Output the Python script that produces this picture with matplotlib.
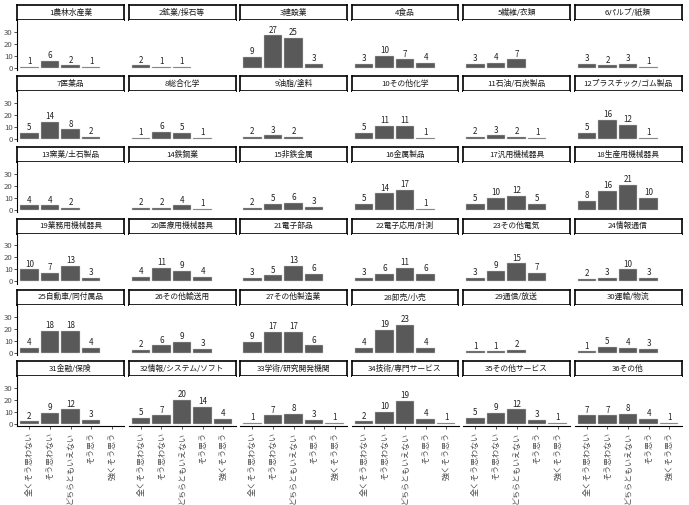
import matplotlib.pyplot as plt

plt.rcParams['font.family'] = ['Noto Sans CJK JP', 'DejaVu Sans']

# 回答カテゴリ
categories = ['全くそう思わない', 'そう思わない', 'どちらともいえない', 'そう思う', '強くそう思う']

# 業種
industries = [
    '1農林水産業', '2鉱業/採石等', '3建設業', '4食品', '5繊維/衣類', '6パルプ/紙類',
    '7医薬品', '8総合化学', '9油脂/塗料', '10その他化学', '11石油/石炭製品', '12プラスチック/ゴム製品',
    '13窯業/土石製品', '14鉄鋼業', '15非鉄金属', '16金属製品', '17汎用機械器具', '18生産用機械器具',
    '19業務用機械器具', '20医療用機械器具', '21電子部品', '22電子応用/計測', '23その他電気', '24情報通信',
    '25自動車/同付属品', '26その他輸送用', '27その他製造業', '28卸売/小売', '29通信/放送', '30運輸/物流',
    '31金融/保険', '32情報/システム/ソフト', '33学術/研究開発機関', '34技術/専門サービス', '35その他サービス', '36その他',
]

# 件数（カテゴリ順、欠けているカテゴリは省略）
counts = [
    [1, 6, 2, 1], [2, 1, 1], [9, 27, 25, 3], [3, 10, 7, 4], [3, 4, 7], [3, 2, 3, 1],
    [5, 14, 8, 2], [1, 6, 5, 1], [2, 3, 2], [5, 11, 11, 1], [2, 3, 2, 1], [5, 16, 12, 1],
    [4, 4, 2], [2, 2, 4, 1], [2, 5, 6, 3], [5, 14, 17, 1], [5, 10, 12, 5], [8, 16, 21, 10],
    [10, 7, 13, 3], [4, 11, 9, 4], [3, 5, 13, 6], [3, 6, 11, 6], [3, 9, 15, 7], [2, 3, 10, 3],
    [4, 18, 18, 4], [2, 6, 9, 3], [9, 17, 17, 6], [4, 19, 23, 4], [1, 1, 2], [1, 5, 4, 3],
    [2, 9, 12, 3], [5, 7, 20, 14, 4], [1, 7, 8, 3, 1], [2, 10, 19, 4, 1], [5, 9, 12, 3, 1], [7, 7, 8, 4, 1],
]

W, H = 689, 505
fig = plt.figure(figsize=(W / 100, H / 100), dpi=100)

ncol, nrow = 6, 6
left0, colstep, pw = 17, 111.5, 107
top0, rowstep, sh, ph = 5, 71.2, 15, 50

bar_color = '#595959'
text_gray = '#4d4d4d'

for k, (name, vals) in enumerate(zip(industries, counts)):
    r, c = divmod(k, ncol)
    x0 = left0 + c * colstep
    stop = top0 + r * rowstep
    ptop = stop + sh

    # ストリップ
    sax = fig.add_axes([x0 / W, 1 - (stop + sh) / H, pw / W, sh / H])
    sax.set_xticks([])
    sax.set_yticks([])
    for sp in sax.spines.values():
        sp.set_linewidth(1.2)
        sp.set_color('black')
    sax.text(0.5, 0.5, name, ha='center', va='center', fontsize=5.6,
             color='#1a1a1a', transform=sax.transAxes)

    # パネル
    ax = fig.add_axes([x0 / W, 1 - (ptop + ph) / H, pw / W, ph / H])
    xs = list(range(len(vals)))
    ax.bar(xs, vals, width=0.9, color=bar_color, edgecolor='#cccccc', linewidth=0.3)
    for x, v in zip(xs, vals):
        ax.text(x, v + 0.6, str(v), ha='center', va='bottom', fontsize=5.8, color='#222222')
    ax.set_xlim(-0.6, len(categories) - 0.4)
    ax.set_ylim(-1.9, 39.8)

    for sp in ['top', 'right']:
        ax.spines[sp].set_visible(False)

    if c == 0:
        ax.set_yticks([0, 10, 20, 30])
        ax.tick_params(axis='y', length=2, width=0.6, pad=1, labelsize=5.6,
                       labelcolor=text_gray, color='#333333')
        ax.spines['left'].set_linewidth(0.8)
    else:
        ax.spines['left'].set_visible(False)
        ax.set_yticks([])

    if r == nrow - 1:
        ax.set_xticks(range(len(categories)))
        ax.set_xticklabels(categories, rotation=90, ha='center', va='top')
        ax.tick_params(axis='x', length=2, width=0.6, pad=2, labelsize=5.8,
                       labelcolor=text_gray, color='#333333')
        ax.spines['bottom'].set_linewidth(0.8)
    else:
        ax.spines['bottom'].set_visible(False)
        ax.set_xticks([])

fig.savefig('out.png', dpi=100)
